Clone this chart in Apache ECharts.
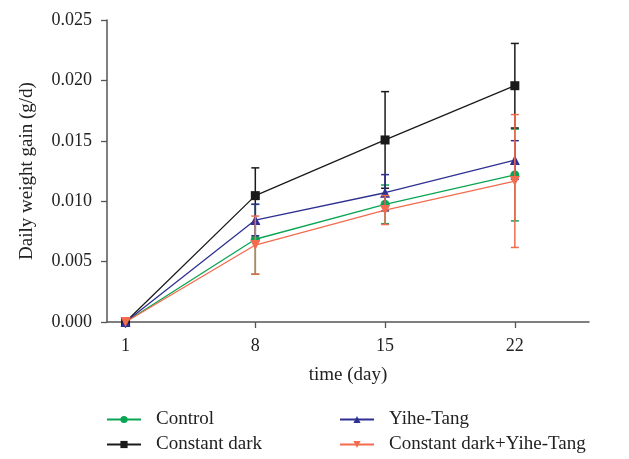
<!DOCTYPE html>
<html>
<head>
<meta charset="utf-8">
<script src="https://cdn.jsdelivr.net/npm/echarts@6/dist/echarts.min.js"></script>
<style>
  html, body { margin: 0; padding: 0; background: #fff; }
  #chart { width: 629px; height: 459px; }
</style>
</head>
<body>
<div id="chart"></div>
<script>
(function () {
    var days = [1, 8, 15, 22];
    var xTicks = [1, 8, 15, 22];

    // means
    var control = [0, 0.00685, 0.00974, 0.01217];
    var constantDark = [0, 0.01046, 0.01507, 0.01956];
    var yiheTang = [0, 0.00844, 0.0107, 0.01341];
    var darkYihe = [0, 0.00637, 0.00927, 0.01167];

    // error (SD)
    var controlErr = [0, 0.0029, 0.0016, 0.0038];
    var constantDarkErr = [0, 0.0023, 0.0040, 0.0035];
    var yiheTangErr = [0, 0.0013, 0.0015, 0.0016];
    var darkYiheErr = [0, 0.0024, 0.0012, 0.0055];

    var font = 'Liberation Serif';
    var groups = [
        { name: 'Control', mean: control, err: controlErr, color: '#0aa552', symbol: 'circle', size: 9, rotate: 0 },
        { name: 'Constant dark', mean: constantDark, err: constantDarkErr, color: '#1a1a1a', symbol: 'rect', size: 9, rotate: 0 },
        { name: 'Yihe-Tang', mean: yiheTang, err: yiheTangErr, color: '#2e3192', symbol: 'triangle', size: 10, rotate: 0 },
        { name: 'Constant dark+Yihe-Tang', mean: darkYihe, err: darkYiheErr, color: '#f26b4f', symbol: 'triangle', size: 10, rotate: 180 }
    ];

    var myChart = echarts.init(document.getElementById('chart'));

    function errorBarItem(params, api) {
        var x = api.value(0);
        var top = api.coord([x, api.value(2)]);
        var bot = api.coord([x, api.value(1)]);
        var half = 4;
        var style = { stroke: api.visual('color'), lineWidth: 1.5 };
        return {
            type: 'group',
            children: [
                { type: 'line', shape: { x1: top[0], y1: top[1], x2: bot[0], y2: bot[1] }, style: style },
                { type: 'line', shape: { x1: top[0] - half, y1: top[1], x2: top[0] + half, y2: top[1] }, style: style },
                { type: 'line', shape: { x1: bot[0] - half, y1: bot[1], x2: bot[0] + half, y2: bot[1] }, style: style }
            ]
        };
    }

    var series = [];
    groups.forEach(function (g, i) {
        series.push({
            name: g.name,
            type: 'line',
            data: days.map(function (d, j) { return [d, g.mean[j]]; }),
            symbol: g.symbol,
            symbolSize: g.size,
            symbolRotate: g.rotate,
            showAllSymbol: true,
            color: g.color,
            lineStyle: { width: 1.3, color: g.color },
            itemStyle: { color: g.color },
            z: 3 + i,
            animation: false
        });
        series.push({
            name: g.name,
            type: 'custom',
            renderItem: errorBarItem,
            data: days.map(function (d, j) {
                return [d, g.mean[j] - g.err[j], g.mean[j] + g.err[j]];
            }).filter(function (v, j) { return g.err[j] > 0; }),
            itemStyle: { color: g.color },
            encode: { x: 0, y: [1, 2] },
            z: 3 + i,
            animation: false
        });
    });

    var legendText = { fontFamily: font, fontSize: 19, lineHeight: 19, color: '#222', padding: [0, 0, 0, 10] };

    var option = {
        backgroundColor: '#fff',
        animation: false,
        grid: { left: 107, right: 40, top: 20, bottom: 137 },
        legend: [{
            data: ['Control', 'Constant dark'],
            orient: 'vertical',
            left: 106,
            top: 410,
            padding: 0,
            itemWidth: 34,
            itemHeight: 9,
            itemGap: 6,
            textStyle: legendText
        }, {
            data: ['Yihe-Tang', 'Constant dark+Yihe-Tang'],
            orient: 'vertical',
            left: 339,
            top: 410,
            padding: 0,
            itemWidth: 34,
            itemHeight: 9,
            itemGap: 6,
            textStyle: legendText
        }],
        xAxis: {
            type: 'value',
            min: 0,
            max: 26,
            name: 'time (day)',
            nameLocation: 'middle',
            nameGap: 44,
            nameTextStyle: { fontFamily: font, fontSize: 19, color: '#222' },
            splitLine: { show: false },
            axisLine: { lineStyle: { color: '#555', width: 1.5 } },
            axisTick: { show: true, customValues: xTicks, length: 6, inside: false, lineStyle: { color: '#555', width: 1.3 } },
            axisLabel: { customValues: xTicks, fontFamily: font, fontSize: 18, color: '#222', margin: 15 }
        },
        yAxis: {
            type: 'value',
            min: 0,
            max: 0.025,
            interval: 0.005,
            name: 'Daily weight gain (g/d)',
            nameLocation: 'middle',
            nameGap: 70,
            nameTextStyle: { fontFamily: font, fontSize: 19, color: '#222' },
            splitLine: { show: false },
            axisLine: { show: true, lineStyle: { color: '#555', width: 1.5 } },
            axisTick: { show: true, length: 6, lineStyle: { color: '#555', width: 1.3 } },
            axisLabel: {
                fontFamily: font, fontSize: 18, color: '#222', margin: 15,
                formatter: function (v) { return v.toFixed(3); }
            }
        },
        series: series
    };

    myChart.setOption(option);

    window.addEventListener('resize', function () {
        myChart.resize();
    });
})();
</script>
</body>
</html>
